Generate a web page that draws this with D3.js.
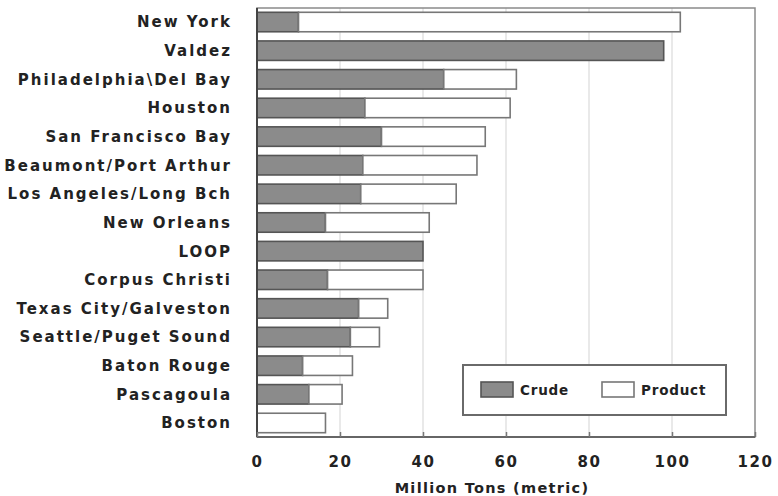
<!DOCTYPE html>
<html>
<head>
<meta charset="utf-8">
<script src="https://cdn.jsdelivr.net/npm/d3@7"></script>
<style>
  html, body { margin: 0; padding: 0; background: #fff; }
  svg text { font-family: "DejaVu Sans", "Liberation Sans", Arial, sans-serif; font-weight: bold; fill: #222; }
</style>
</head>
<body>
<svg id="chart" width="778" height="496"></svg>
<script>
// Port throughput, million metric tons
const ports = [
  "New York", "Valdez", "Philadelphia\\Del Bay", "Houston", "San Francisco Bay",
  "Beaumont/Port Arthur", "Los Angeles/Long Bch", "New Orleans", "LOOP",
  "Corpus Christi", "Texas City/Galveston", "Seattle/Puget Sound",
  "Baton Rouge", "Pascagoula", "Boston"
];
const crude   = [10, 98, 45, 26, 30, 25.5, 25, 16.5, 40, 17, 24.5, 22.5, 11, 12.5, 0];
const product = [92, 0, 17.5, 35, 25, 27.5, 23, 25, 0, 23, 7, 7, 12, 8, 16.5];
const xTicks  = [0, 20, 40, 60, 80, 100, 120];
const seriesNames = ["Crude", "Product"];

const svg = d3.select("#chart");
const plotL = 257, plotR = 755, plotT = 8, plotB = 437;

const x = d3.scaleLinear().domain([0, 120]).range([plotL, plotR]);
const y = d3.scaleBand().domain(ports).range([plotT, plotB])
  .paddingInner(0.32).paddingOuter(0.15);

// light vertical grid
svg.append("g").selectAll("line")
  .data(xTicks.slice(1, -1))
  .join("line")
  .attr("x1", d => x(d)).attr("x2", d => x(d))
  .attr("y1", plotT).attr("y2", plotB)
  .attr("stroke", "#e2e2e2").attr("stroke-width", 1.5);

// stacked bars
const rows = ports.map((p, i) => ({ port: p, crude: crude[i], product: product[i] }));
const stack = d3.stack().keys(["crude", "product"])(rows);
const fills = { crude: "#8b8b8b", product: "#ffffff" };
const strokes = { crude: "#555", product: "#777" };

svg.append("g").selectAll("g")
  .data(stack)
  .join("g")
  .attr("fill", s => fills[s.key])
  .attr("stroke", s => strokes[s.key])
  .attr("stroke-width", 1.6)
  .selectAll("rect")
  .data(s => s.filter(d => d[1] - d[0] > 0))
  .join("rect")
  .attr("x", d => x(d[0]))
  .attr("width", d => x(d[1]) - x(d[0]))
  .attr("y", d => y(d.data.port))
  .attr("height", y.bandwidth());

// frame
svg.append("rect")
  .attr("x", plotL).attr("y", plotT)
  .attr("width", plotR - plotL).attr("height", plotB - plotT)
  .attr("fill", "none").attr("stroke", "#8a8a8a").attr("stroke-width", 1.5);
svg.append("line")
  .attr("x1", plotL).attr("x2", plotL).attr("y1", plotT).attr("y2", plotB)
  .attr("stroke", "#444").attr("stroke-width", 2);
svg.append("line")
  .attr("x1", plotL).attr("x2", plotR).attr("y1", plotB).attr("y2", plotB)
  .attr("stroke", "#666").attr("stroke-width", 2);

// x axis
const xAxis = svg.append("g")
  .attr("transform", `translate(0,${plotB})`)
  .call(d3.axisBottom(x).tickValues(xTicks).tickSizeInner(-5).tickSizeOuter(0).tickPadding(19));
xAxis.select(".domain").remove();
xAxis.selectAll(".tick line").attr("stroke", "#777").attr("stroke-width", 1.5);
xAxis.selectAll(".tick text")
  .attr("font-size", 15).style("letter-spacing", "1.5px").attr("fill", "#222");

// category labels
svg.append("g").selectAll("text")
  .data(ports)
  .join("text")
  .attr("x", 232)
  .attr("y", d => y(d) + y.bandwidth() / 2)
  .attr("dy", "0.36em")
  .attr("text-anchor", "end")
  .attr("font-size", 15)
  .style("letter-spacing", "2px")
  .text(d => d);

// axis title
svg.append("text")
  .attr("x", 492).attr("y", 493)
  .attr("text-anchor", "middle")
  .attr("font-size", 14.5)
  .style("letter-spacing", "1.3px")
  .text("Million Tons (metric)");

// legend
const lg = svg.append("g");
lg.append("rect")
  .attr("x", 463).attr("y", 365).attr("width", 263).attr("height", 50)
  .attr("fill", "#fff").attr("stroke", "#6a6a6a").attr("stroke-width", 2);
const legendItems = [
  { key: "crude", label: seriesNames[0], sx: 481, tx: 520 },
  { key: "product", label: seriesNames[1], sx: 602, tx: 641 }
];
legendItems.forEach(it => {
  lg.append("rect")
    .attr("x", it.sx).attr("y", 382).attr("width", 32).attr("height", 15)
    .attr("fill", fills[it.key]).attr("stroke", strokes[it.key]).attr("stroke-width", 1.6);
  lg.append("text")
    .attr("x", it.tx).attr("y", 390).attr("dy", "0.36em")
    .attr("font-size", 13.5)
    .style("letter-spacing", "0.8px")
    .text(it.label);
});
</script>
</body>
</html>
